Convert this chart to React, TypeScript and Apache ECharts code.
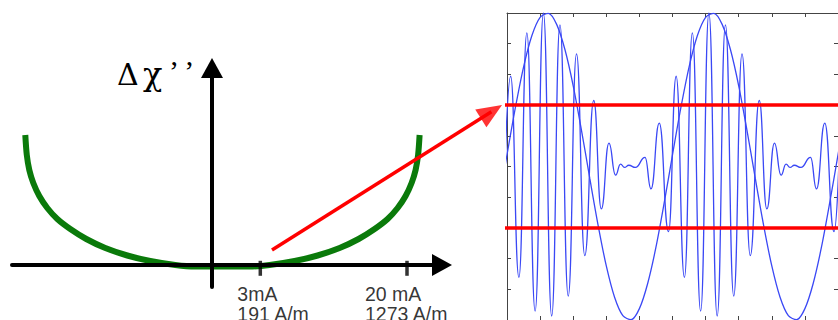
import { useEffect, useRef } from 'react';
import * as echarts from 'echarts';

// Left schematic: U-shaped response curve (schematic units)
const curveX = [-9.335, -9.26, -9.135, -8.935, -8.635, -8.235, -7.735, -7.085, -6.285, -5.335, -4.235, -3.085, -1.835, -0.835,
  1.88, 2.88, 4.13, 5.28, 6.38, 7.33, 8.13, 8.78, 9.28, 9.68, 9.98, 10.18, 10.305, 10.38];
const curveY = [6.5, 5.5, 4.75, 4.1, 3.45, 2.85, 2.3, 1.8, 1.3, 0.85, 0.475, 0.2, 0.0, -0.075,
  -0.075, 0.0, 0.2, 0.475, 0.85, 1.3, 1.8, 2.3, 2.85, 3.45, 4.1, 4.75, 5.5, 6.5];
const tickValues = [2.415, 9.75];
const tickLabels = ['3mA\n191 A/m', '20 mA\n1273 A/m'];
const arrowFrom = [3.0, 0.75];
const arrowTo = [14.5, 8.0];

// Right panel: slow sinusoid and fast modulated signal
const slowX = [-0.25, 0, 0.25, 0.5, 0.75, 1, 1.25, 1.5, 1.75, 2, 2.25, 2.5, 2.75, 3, 3.25, 3.5, 3.75, 4, 4.25, 4.5, 4.75, 5, 5.25, 5.5, 5.75, 6, 6.25, 6.5, 6.75, 7, 7.25, 7.5, 7.75, 8, 8.25, 8.5, 8.75, 9, 9.25, 9.5, 9.75, 10, 10.25];
const slowY = [-1.18, 0.38, 1.9, 3.24, 4.26, 4.86, 4.99, 4.63, 3.81, 2.63, 1.18, -0.38, -1.9, -3.24, -4.26, -4.86, -4.99, -4.63, -3.81, -2.63, -1.18, 0.38, 1.9, 3.24, 4.26, 4.86, 4.99, 4.63, 3.81, 2.63, 1.18, -0.38, -1.9, -3.24, -4.26, -4.86, -4.99, -4.63, -3.81, -2.63, -1.18, 0.38, 1.9];
const fastX = [-0.12, 0.11, 0.36, 0.6, 0.85, 1.1, 1.35, 1.6, 1.85, 2.1, 2.35, 2.62, 2.85, 3.08, 3.28, 3.43, 3.55, 3.68, 3.88, 4.17, 4.35, 4.6, 4.88,
  5.11, 5.36, 5.6, 5.85, 6.1, 6.35, 6.6, 6.85, 7.1, 7.35, 7.62, 7.85, 8.08, 8.28, 8.43, 8.55, 8.68, 8.88, 9.17, 9.35, 9.6, 9.88, 10.11];
const fastY = [-2.12, 2.94, -3.61, 4.35, -4.71, 5.0, -4.87, 4.61, -4.22, 3.67, -2.9, 2.15, -1.38, 0.76, -0.28, 0.08, -0.03, 0.04, -0.03, 0.3, -0.73, 1.41, -2.12,
  2.94, -3.61, 4.35, -4.71, 5.0, -4.87, 4.61, -4.22, 3.67, -2.9, 2.15, -1.38, 0.76, -0.28, 0.08, -0.03, 0.04, -0.03, 0.3, -0.73, 1.41, -2.12, 2.94];
const redLevels = [2, -2];

const zip = (xs: number[], ys: number[]) => xs.map((x, i) => [x, ys[i]]);

export default function App() {
  const ref = useRef<HTMLDivElement>(null);
  useEffect(() => {
    if (!ref.current) return;
    const chart = echarts.init(ref.current, undefined, { renderer: 'svg' });

    const dx = arrowTo[0] - arrowFrom[0];
    const dy = arrowTo[1] - arrowFrom[1];
    const lenPx = Math.sqrt(dx * dx + dy * dy) * 20;
    const headLen = 25;
    const f = (headLen / 2) / lenPx;
    const headCenter = [arrowTo[0] - dx * f, arrowTo[1] - dy * f];
    const angle = (Math.atan2(dy, dx) * 180) / Math.PI;

    const blackAxis = {
      show: true,
      onZero: true,
      symbol: ['none', 'triangle'],
      symbolSize: [22, 20],
      lineStyle: { color: '#000', width: 4 },
    };
    const hiddenAxis = { show: false };
    const frameAxis = {
      axisLine: { show: true, onZero: false, lineStyle: { color: '#444', width: 1 } },
      axisTick: { show: true, inside: true, length: 4, lineStyle: { color: '#444' } },
      axisLabel: { show: false },
      splitLine: { show: false },
    };

    chart.setOption({
      animation: false,
      backgroundColor: '#fff',
      grid: [
        { left: 12, right: 396, top: 68, bottom: 33 },
        { left: 507, right: -5, top: 13, bottom: -2 },
        { left: 12, right: 0, top: 68, bottom: 33 },
      ],
      xAxis: [
        { gridIndex: 0, type: 'value', min: -10, max: 11.5, z: 3, axisLine: blackAxis, axisTick: { show: false }, axisLabel: { show: false }, splitLine: { show: false } },
        { gridIndex: 1, type: 'value', min: 0, max: 10, interval: 1, position: 'bottom', ...frameAxis },
        { gridIndex: 1, type: 'value', min: 0, max: 10, interval: 1, position: 'top', ...frameAxis },
        { gridIndex: 2, type: 'value', min: -10, max: 31.3, ...hiddenAxis },
      ],
      yAxis: [
        { gridIndex: 0, type: 'value', min: -1.1, max: 9.85, z: 3, axisLine: blackAxis, axisTick: { show: false }, axisLabel: { show: false }, splitLine: { show: false } },
        { gridIndex: 1, type: 'value', min: -5, max: 5, interval: 1, position: 'left', ...frameAxis },
        { gridIndex: 1, type: 'value', min: -5, max: 5, interval: 1, position: 'right', ...frameAxis },
        { gridIndex: 2, type: 'value', min: -1.1, max: 9.85, ...hiddenAxis },
      ],
      graphic: [
        { type: 'text', left: 117, top: 59, style: { text: 'Δ', fontSize: 30, fontFamily: 'DejaVu Serif', fill: '#000' } },
        { type: 'text', left: 143, top: 58, style: { text: 'χ', fontSize: 32, fontFamily: 'DejaVu Serif', fill: '#000' } },
        { type: 'text', left: 169, top: 55, style: { text: '’ ’', fontSize: 30, fontFamily: 'Liberation Serif', fill: '#000' } },
      ],
      series: [
        {
          type: 'line', xAxisIndex: 0, yAxisIndex: 0, data: zip(curveX, curveY),
          smooth: 0.3, symbol: 'none',
          lineStyle: { color: '#0a7a0a', width: 6 }, z: 2,
        },
        {
          type: 'scatter', xAxisIndex: 0, yAxisIndex: 0,
          data: tickValues.map((t, i) => ({
            value: [t, 0],
            label: { offset: [i === 0 ? -23 : -42, 0] },
          })),
          symbol: 'rect', symbolSize: [3.5, 15], symbolOffset: [0, 3.3],
          itemStyle: { color: '#000' }, z: 4, clip: false,
          label: {
            show: true, position: 'bottom', distance: 8, align: 'left',
            formatter: (p: any) => tickLabels[p.dataIndex],
            fontFamily: 'Liberation Sans', fontSize: 19.5, lineHeight: 20, color: '#000',
          },
        },
        {
          type: 'line', xAxisIndex: 3, yAxisIndex: 3, data: [arrowFrom, headCenter],
          symbol: 'none', lineStyle: { color: '#ff0000', width: 3.5 }, z: 5,
        },
        {
          type: 'scatter', xAxisIndex: 3, yAxisIndex: 3, data: [headCenter],
          symbol: 'triangle', symbolSize: [21, headLen], symbolRotate: angle - 90,
          itemStyle: { color: '#ff0000' }, z: 5,
        },
        {
          type: 'line', xAxisIndex: 1, yAxisIndex: 1, data: zip(slowX, slowY),
          smooth: 0.3, symbol: 'none', lineStyle: { color: '#3a48f5', width: 1.3 }, z: 2,
        },
        {
          type: 'line', xAxisIndex: 1, yAxisIndex: 1, data: zip(fastX, fastY),
          smooth: 0.5, smoothMonotone: 'x', symbol: 'none', lineStyle: { color: '#3a48f5', width: 1.3 }, z: 2,
        },
        ...redLevels.map((lv) => ({
          type: 'line', xAxisIndex: 1, yAxisIndex: 1, data: [[-0.09, lv], [10, lv]],
          symbol: 'none', clip: false, lineStyle: { color: '#ff0000', width: 3.5 }, z: 4,
        })),
      ],
    });
    return () => chart.dispose();
  }, []);
  return <div ref={ref} style={{ position: 'fixed', left: 0, top: 0, width: 838, height: 320 }} />;
}
